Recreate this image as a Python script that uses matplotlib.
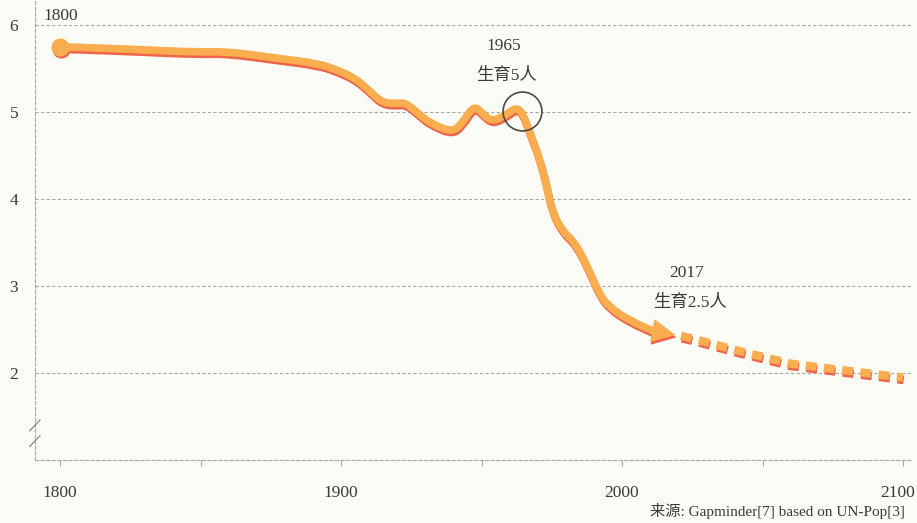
import matplotlib
matplotlib.use("Agg")
import matplotlib.pyplot as plt
import matplotlib.transforms as mtransforms
from matplotlib.path import Path
from matplotlib.patches import PathPatch
import numpy as np

# ---- data ----
years = [1800, 1804, 1828, 1849, 1859, 1875, 1892, 1899, 1905, 1910, 1914.6, 1919.6,
         1923, 1928, 1932, 1939.5, 1943, 1947.3, 1950.2, 1953.7, 1958.7, 1962, 1964.4,
         1967, 1970.5, 1973, 1975, 1978.6, 1983.6, 1988.3, 1991.8, 1995.4, 2002.5, 2010.7]
fertility = [5.75, 5.75, 5.72, 5.69, 5.70, 5.63, 5.56, 5.48, 5.39, 5.25, 5.11, 5.10,
             5.11, 4.97, 4.87, 4.77, 4.87, 5.08, 4.99, 4.89, 4.97, 5.05, 5.01,
             4.78, 4.48, 4.18, 3.87, 3.64, 3.49, 3.18, 2.92, 2.76, 2.61, 2.49]
arrow_tip = (2019, 2.44)          # 2017 value point (arrow head)
proj_years = [2021, 2025, 2040, 2060, 2080, 2100]
proj_vals = [2.43, 2.40, 2.27, 2.11, 2.03, 1.95]
yticks = [2, 3, 4, 5, 6]
xlabels = [1800, 1900, 2000, 2100]
highlight = (1964.4, 5.01)
source = "来源: Gapminder[7] based on UN-Pop[3]"

FONT = ['Liberation Serif', 'Noto Sans CJK SC']
plt.rcParams['font.family'] = FONT

bg = '#fcfcf6'
orange = '#f9ad4e'
red = '#f0644c'
grid_c = '#a8a8a0'
txt = '#3a3a3a'

fig = plt.figure(figsize=(9.17, 5.23), dpi=100, facecolor=bg)
ax = fig.add_axes([0.038, 0.12, 0.955, 0.88], facecolor=bg)
ax.set_xlim(1791, 2102.7)
ax.set_ylim(1.0, 6.29)

# grid
for v in yticks:
    ax.axhline(v, color=grid_c, lw=0.8, ls=(0, (3, 2)), zorder=1)

for s in ['top', 'right']:
    ax.spines[s].set_visible(False)
for s in ['left', 'bottom']:
    ax.spines[s].set_color(grid_c)
    ax.spines[s].set_linestyle((0, (3, 2)))
    ax.spines[s].set_linewidth(0.8)

ax.set_yticks(yticks)
ax.set_yticklabels([str(v) for v in yticks], fontsize=12.5, color=txt)
ax.tick_params(axis='y', length=0, pad=12)
xt = np.arange(1800, 2101, 50)
ax.set_xticks(xt)
ax.set_xticklabels([str(int(t)) if (t in xlabels and t != xlabels[-1]) else '' for t in xt],
                   fontsize=12.5, color=txt)
ax.tick_params(axis='x', length=4, color=grid_c, width=0.8, pad=14)
ax.annotate(str(xlabels[-1]), xy=(xlabels[-1], 0), xycoords=('data', 'axes fraction'),
            xytext=(-4, -18), textcoords='offset points', ha='center', va='top',
            fontsize=12.5, color=txt, annotation_clip=False)

shadow = mtransforms.offset_copy(ax.transData, fig=fig, x=0.5, y=-1.8, units='points')


def smooth_path(xs, ys):
    pts = list(zip(xs, ys))
    verts = [pts[0]]
    codes = [Path.MOVETO]
    for i in range(1, len(pts) - 1):
        mid = ((pts[i][0] + pts[i + 1][0]) / 2, (pts[i][1] + pts[i + 1][1]) / 2)
        verts += [pts[i], mid]
        codes += [Path.CURVE3, Path.CURVE3]
    verts.append(pts[-1])
    codes.append(Path.LINETO)
    return Path(verts, codes)


path = smooth_path(years, fertility)
for col, tr, z in [(red, shadow, 3), (orange, ax.transData, 4)]:
    ax.add_patch(PathPatch(path, fill=False, edgecolor=col, lw=5.5, capstyle='round',
                           joinstyle='round', transform=tr, zorder=z))
    ax.plot(years[0], fertility[0], 'o', ms=12, color=col, transform=tr, zorder=z)
    # shaft up to the head
    ax.annotate('', xy=arrow_tip, xytext=(years[-1], fertility[-1]),
                xycoords=tr, textcoords=tr,
                arrowprops=dict(arrowstyle='-', color=col, lw=5.5, shrinkA=0, shrinkB=12,
                                capstyle='round'),
                zorder=z)
    # sharp head
    ax.annotate('', xy=arrow_tip, xytext=(years[-1], fertility[-1]),
                xycoords=tr, textcoords=tr,
                arrowprops=dict(arrowstyle='-|>,head_length=0.8,head_width=0.4',
                                mutation_scale=20, facecolor=col, edgecolor=col,
                                lw=0.6, shrinkA=0, shrinkB=0),
                zorder=z)
    ax.plot(proj_years, proj_vals, color=col, lw=6, ls=(0, (1.3, 0.9)),
            dash_capstyle='butt', transform=tr, zorder=z)

# circle highlight
ax.plot(*highlight, 'o', ms=28, mfc='none', mec='#4a4a4a', mew=1.2, zorder=5)

# annotations
ax.text(years[0] + 0.4, 6.11, '1800', fontsize=12.5, color=txt, ha='center', va='center')
ax.text(1958, 5.76, '1965', fontsize=12.5, color=txt, ha='center', va='center')
ax.text(1959, 5.42, '生育5人', fontsize=12.5, color=txt, ha='center', va='center')
ax.text(2023, 3.15, '2017', fontsize=12.5, color=txt, ha='center', va='center')
ax.text(2024, 2.81, '生育2.5人', fontsize=12.5, color=txt, ha='center', va='center')

# axis break marks
for yb in [1.40, 1.22]:
    yf = (yb - 1.0) / 5.29
    ax.annotate('', xy=(0.006, yf + 0.012), xytext=(-0.006, yf - 0.012),
                xycoords='axes fraction', textcoords='axes fraction',
                arrowprops=dict(arrowstyle='-', color='#888880', lw=0.9, shrinkA=0, shrinkB=0))

fig.text(0.987, 0.022, source, fontsize=11, color=txt, ha='right', va='center')

fig.savefig('out.png', dpi=100, facecolor=bg)
